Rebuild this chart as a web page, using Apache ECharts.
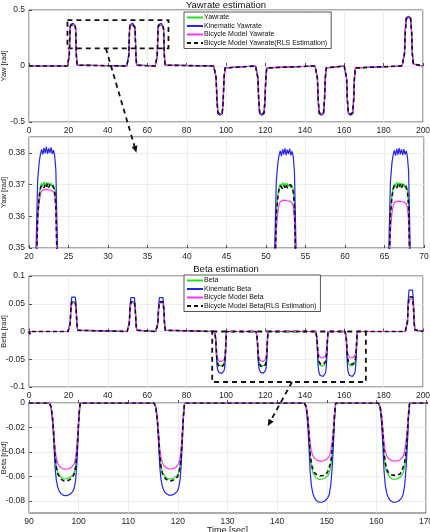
<!DOCTYPE html>
<html><head><meta charset="utf-8">
<script src="https://cdn.jsdelivr.net/npm/echarts@6/dist/echarts.min.js"></script>
<style>html,body{margin:0;padding:0;background:#fff}#c{width:430px;height:532px}</style>
</head><body><div id="c"></div>
<script>
// ---------- Yaw rate data (time [s], values [rad]) ----------
const yawTime = [0,
 19.45,20.05,20.45,20.75,20.9,21.1,21.3,21.45,21.6,21.75,21.9,22.05,22.2,22.35,22.5,22.65,22.8,22.95,23.1,23.25,23.4,23.6,23.75,24.05,24.45,25.05,
 49.65,50.25,50.65,50.95,51.1,51.3,51.5,51.65,51.8,51.95,52.1,52.25,52.4,52.55,52.7,52.85,53.0,53.15,53.3,53.45,53.6,53.8,53.95,54.25,54.65,55.25,
 64.1,64.7,65.1,65.4,65.55,65.75,65.95,66.1,66.25,66.4,66.55,66.7,66.85,67.0,67.15,67.3,67.45,67.6,67.75,67.9,68.05,68.25,68.4,68.7,69.1,69.7,
 93.8,94.5,95.0,95.4,95.9,97.0,98.1,98.6,99.0,99.5,100.2,
 115.0,115.7,116.2,116.6,117.1,118.2,119.3,119.8,120.2,120.7,121.4,
 145.2,145.9,146.4,146.8,147.3,148.4,149.5,150.0,150.4,150.9,151.6,
 160.0,160.7,161.2,161.6,162.1,163.2,164.3,164.8,165.2,165.7,166.4,
 189.4,190.1,190.6,191.0,191.5,192.6,193.7,194.2,194.6,195.1,195.8,
 200];

const yawGreen = [0,
 0,0.0074,0.0925,0.278,0.3407,0.3611,0.3670,0.3693,0.3705,0.3694,0.3709,0.3697,0.3707,0.3693,0.3706,0.3696,0.3704,0.3692,0.3699,0.3686,0.3640,0.3407,0.278,0.0925,0.0074,0,
 0,0.0074,0.0924,0.2776,0.3404,0.3608,0.3667,0.3690,0.3702,0.3692,0.3707,0.3695,0.3705,0.3691,0.3704,0.3694,0.3702,0.3690,0.3697,0.3684,0.3638,0.3404,0.2776,0.0924,0.0074,0,
 0,0.0074,0.0925,0.2777,0.3405,0.3609,0.3668,0.3691,0.3703,0.3693,0.3708,0.3696,0.3706,0.3692,0.3705,0.3695,0.3703,0.3691,0.3698,0.3685,0.3639,0.3405,0.2777,0.0925,0.0074,0,
 0,-0.0172,-0.1078,-0.3017,-0.4181,-0.431,-0.4181,-0.3017,-0.1078,-0.0172,0,
 0,-0.0172,-0.1078,-0.3017,-0.4181,-0.431,-0.4181,-0.3017,-0.1078,-0.0172,0,
 0,-0.0172,-0.1078,-0.3017,-0.4181,-0.431,-0.4181,-0.3017,-0.1078,-0.0172,0,
 0,-0.0172,-0.1078,-0.3017,-0.4181,-0.431,-0.4181,-0.3017,-0.1078,-0.0172,0,
 0,0.0174,0.109,0.3052,0.4229,0.436,0.4229,0.3052,0.109,0.0174,0,
 0];

const yawBlue = [0,
 0,0.0076,0.095,0.286,0.3505,0.3715,0.3772,0.3796,0.3811,0.3795,0.3816,0.3799,0.3819,0.3797,0.3814,0.3800,0.3817,0.3796,0.3809,0.3791,0.3745,0.3505,0.286,0.095,0.0076,0,
 0,0.0076,0.0948,0.2855,0.3500,0.3708,0.3768,0.3792,0.3806,0.3790,0.3811,0.3795,0.3814,0.3793,0.3810,0.3796,0.3813,0.3792,0.3805,0.3788,0.3741,0.3500,0.2855,0.0948,0.0076,0,
 0,0.0076,0.0949,0.2856,0.3502,0.3710,0.3770,0.3794,0.3808,0.3791,0.3813,0.3794,0.3815,0.3795,0.3811,0.3793,0.3812,0.3795,0.3806,0.3789,0.3742,0.3502,0.2856,0.0949,0.0076,0,
 0,-0.0176,-0.11,-0.308,-0.4268,-0.44,-0.4268,-0.308,-0.11,-0.0176,0,
 0,-0.0176,-0.11,-0.308,-0.4268,-0.44,-0.4268,-0.308,-0.11,-0.0176,0,
 0,-0.0176,-0.11,-0.308,-0.4268,-0.44,-0.4268,-0.308,-0.11,-0.0176,0,
 0,-0.0176,-0.11,-0.308,-0.4268,-0.44,-0.4268,-0.308,-0.11,-0.0176,0,
 0,0.0178,0.1113,0.3115,0.4317,0.445,0.4317,0.3115,0.1113,0.0178,0,
 0];

const yawMagenta = [0,
 0,0.0074,0.092,0.276,0.3388,0.3590,0.3647,0.3670,0.3680,0.3677,0.3684,0.3679,0.3685,0.3680,0.3683,0.3678,0.3682,0.3677,0.3677,0.3667,0.3625,0.3388,0.276,0.092,0.0074,0,
 0,0.0073,0.0912,0.2736,0.3356,0.3557,0.3614,0.3636,0.3646,0.3643,0.3650,0.3645,0.3651,0.3646,0.3649,0.3644,0.3648,0.3643,0.3642,0.3632,0.3590,0.3356,0.2736,0.0912,0.0073,0,
 0,0.0073,0.0911,0.2734,0.3353,0.3554,0.3611,0.3633,0.3643,0.3640,0.3647,0.3642,0.3648,0.3643,0.3646,0.3641,0.3645,0.3640,0.3639,0.3629,0.3587,0.3353,0.2734,0.0911,0.0073,0,
 0,-0.0171,-0.107,-0.2996,-0.4152,-0.428,-0.4152,-0.2996,-0.107,-0.0171,0,
 0,-0.0171,-0.107,-0.2996,-0.4152,-0.428,-0.4152,-0.2996,-0.107,-0.0171,0,
 0,-0.0171,-0.107,-0.2996,-0.4152,-0.428,-0.4152,-0.2996,-0.107,-0.0171,0,
 0,-0.0171,-0.107,-0.2996,-0.4152,-0.428,-0.4152,-0.2996,-0.107,-0.0171,0,
 0,0.0173,0.1083,0.3031,0.42,0.433,0.42,0.3031,0.1083,0.0173,0,
 0];

const yawBlack = [0,
 0,0.0074,0.0924,0.2775,0.3402,0.3605,0.3664,0.3688,0.3698,0.3702,0.3690,0.3700,0.3692,0.3703,0.3691,0.3699,0.3694,0.3701,0.3690,0.3680,0.3635,0.3402,0.2775,0.0924,0.0074,0,
 0,0.0074,0.0923,0.2773,0.3400,0.3602,0.3661,0.3685,0.3696,0.3700,0.3688,0.3698,0.3690,0.3701,0.3689,0.3697,0.3692,0.3699,0.3688,0.3678,0.3633,0.3400,0.2773,0.0923,0.0073,0,
 0,0.0074,0.0923,0.2774,0.3401,0.3603,0.3662,0.3686,0.3697,0.3701,0.3689,0.3699,0.3691,0.3702,0.3690,0.3698,0.3693,0.3700,0.3689,0.3679,0.3634,0.3401,0.2774,0.0923,0.0073,0,
 0,-0.0172,-0.1075,-0.301,-0.4171,-0.430,-0.4171,-0.301,-0.1075,-0.0172,0,
 0,-0.0172,-0.1075,-0.301,-0.4171,-0.430,-0.4171,-0.301,-0.1075,-0.0172,0,
 0,-0.0172,-0.1075,-0.301,-0.4171,-0.430,-0.4171,-0.301,-0.1075,-0.0172,0,
 0,-0.0172,-0.1075,-0.301,-0.4171,-0.430,-0.4171,-0.301,-0.1075,-0.0172,0,
 0,0.0174,0.1088,0.3045,0.422,0.435,0.422,0.3045,0.1088,0.0174,0,
 0];

// ---------- Side-slip (beta) data ----------
const betaTime = [0,0.4,0.9,
 19.8,20.5,20.9,21.25,21.7,22.6,23.5,23.95,24.3,24.7,25.4,
 49.8,50.5,50.9,51.25,51.7,52.6,53.5,53.95,54.3,54.7,55.4,
 64.3,65.0,65.4,65.75,66.2,67.1,68.0,68.45,68.8,69.2,69.9,
 94.1,94.45,94.75,95.0,95.25,95.5,95.8,96.1,96.4,96.7,97.0,97.3,97.6,97.9,98.2,98.5,98.8,99.1,99.4,99.65,99.85,100.05,100.3,
 115.2,115.55,115.85,116.1,116.35,116.6,116.9,117.2,117.5,117.8,118.1,118.4,118.7,119.0,119.3,119.6,119.9,120.15,120.45,120.7,120.9,121.1,121.35,
 145.5,145.85,146.15,146.4,146.65,146.9,147.2,147.5,147.8,148.1,148.4,148.7,149.0,149.3,149.6,149.9,150.2,150.5,150.8,151.1,151.35,151.55,151.8,
 160.4,160.75,161.05,161.3,161.55,161.8,162.1,162.4,162.7,163.0,163.3,163.6,163.9,164.2,164.5,164.8,165.1,165.4,165.7,166.0,166.25,166.45,166.7,
 191.0,191.7,192.1,192.45,192.9,193.8,194.7,195.15,195.5,195.9,196.6,
 200];

const betaGreen = [0,-0.004,0,
 0,0.0022,0.014,0.0392,0.0543,0.056,0.0543,0.0392,0.014,0.0022,0,
 0,0.0022,0.014,0.0392,0.0543,0.056,0.0543,0.0392,0.014,0.0022,0,
 0,0.0022,0.014,0.0392,0.0543,0.056,0.0543,0.0392,0.014,0.0022,0,
 0,-0.0031,-0.0124,-0.0260,-0.0426,-0.0513,-0.0566,-0.0581,-0.0605,-0.0609,-0.0620,-0.0616,-0.0619,-0.0613,-0.0611,-0.0603,-0.0590,-0.0569,-0.0513,-0.0402,-0.0260,-0.0111,0,
 0,-0.0031,-0.0124,-0.0260,-0.0428,-0.0515,-0.0568,-0.0584,-0.0607,-0.0611,-0.0621,-0.0618,-0.0620,-0.0615,-0.0612,-0.0605,-0.0592,-0.0570,-0.0515,-0.0403,-0.0260,-0.0112,0,
 0,-0.0031,-0.0125,-0.0262,-0.0431,-0.0518,-0.0570,-0.0585,-0.0610,-0.0615,-0.0625,-0.0622,-0.0624,-0.0619,-0.0616,-0.0608,-0.0596,-0.0574,-0.0518,-0.0406,-0.0262,-0.0112,0,
 0,-0.0031,-0.0125,-0.0262,-0.0430,-0.0517,-0.0568,-0.0586,-0.0608,-0.0616,-0.0624,-0.0621,-0.0623,-0.0620,-0.0615,-0.0607,-0.0595,-0.0573,-0.0517,-0.0405,-0.0262,-0.0112,0,
 0,0.0026,0.0163,0.0455,0.0631,0.065,0.0631,0.0455,0.0163,0.0026,0,
 0];

const betaBlue = [0,-0.004,0,
 0,0.0026,0.016,0.0448,0.0621,0.064,0.0621,0.0448,0.016,0.0026,0,
 0,0.0025,0.0158,0.0441,0.0611,0.063,0.0611,0.0441,0.0158,0.0025,0,
 0,0.0025,0.0158,0.0441,0.0611,0.063,0.0611,0.0441,0.0158,0.0025,0,
 0,-0.0038,-0.0152,-0.0319,-0.0524,-0.0630,-0.0691,-0.0721,-0.0740,-0.0751,-0.0757,-0.0759,-0.0758,-0.0755,-0.0749,-0.0740,-0.0725,-0.0698,-0.0630,-0.0493,-0.0319,-0.0137,0,
 0,-0.0038,-0.0151,-0.0317,-0.0521,-0.0627,-0.0687,-0.0717,-0.0736,-0.0747,-0.0753,-0.0755,-0.0754,-0.0751,-0.0745,-0.0736,-0.0721,-0.0695,-0.0627,-0.0491,-0.0317,-0.0136,0,
 0,-0.0041,-0.0163,-0.0341,-0.0561,-0.0675,-0.0740,-0.0772,-0.0793,-0.0805,-0.0811,-0.0813,-0.0812,-0.0809,-0.0802,-0.0793,-0.0776,-0.0748,-0.0675,-0.0528,-0.0341,-0.0146,0,
 0,-0.0041,-0.0163,-0.0341,-0.0561,-0.0675,-0.0740,-0.0772,-0.0793,-0.0805,-0.0811,-0.0813,-0.0812,-0.0809,-0.0802,-0.0793,-0.0776,-0.0748,-0.0675,-0.0528,-0.0341,-0.0146,0,
 0,0.0031,0.0193,0.0539,0.0747,0.077,0.0747,0.0539,0.0193,0.0031,0,
 0];

const betaMagenta = [0,-0.004,0,
 0,0.0021,0.0133,0.0371,0.0514,0.053,0.0514,0.0371,0.0133,0.0021,0,
 0,0.0021,0.0133,0.0371,0.0514,0.053,0.0514,0.0371,0.0133,0.0021,0,
 0,0.0021,0.0133,0.0371,0.0514,0.053,0.0514,0.0371,0.0133,0.0021,0,
 0,-0.0027,-0.0108,-0.0228,-0.0374,-0.0450,-0.0493,-0.0515,-0.0528,-0.0537,-0.0541,-0.0542,-0.0541,-0.0539,-0.0535,-0.0528,-0.0518,-0.0499,-0.0450,-0.0352,-0.0228,-0.0098,0,
 0,-0.0027,-0.0108,-0.0227,-0.0373,-0.0448,-0.0491,-0.0513,-0.0527,-0.0535,-0.0539,-0.0540,-0.0539,-0.0537,-0.0533,-0.0527,-0.0516,-0.0497,-0.0448,-0.0351,-0.0227,-0.0097,0,
 0,-0.0024,-0.0095,-0.0200,-0.0328,-0.0394,-0.0432,-0.0451,-0.0463,-0.0470,-0.0474,-0.0475,-0.0475,-0.0473,-0.0469,-0.0463,-0.0454,-0.0437,-0.0394,-0.0309,-0.0200,-0.0086,0,
 0,-0.0024,-0.0095,-0.0200,-0.0328,-0.0395,-0.0433,-0.0452,-0.0464,-0.0471,-0.0475,-0.0476,-0.0476,-0.0474,-0.0470,-0.0464,-0.0455,-0.0438,-0.0395,-0.0309,-0.0200,-0.0086,0,
 0,0.0024,0.015,0.042,0.0582,0.060,0.0582,0.042,0.015,0.0024,0,
 0];

const betaBlack = [0,-0.005,0,
 0,0.0022,0.0138,0.0385,0.0534,0.055,0.0534,0.0385,0.0138,0.0022,0,
 0,0.0022,0.0138,0.0385,0.0534,0.055,0.0534,0.0385,0.0138,0.0022,0,
 0,0.0022,0.0138,0.0385,0.0534,0.055,0.0534,0.0385,0.0138,0.0022,0,
 0,-0.0032,-0.0127,-0.0266,-0.0437,-0.0525,-0.0582,-0.0598,-0.0622,-0.0624,-0.0637,-0.0630,-0.0638,-0.0627,-0.0628,-0.0614,-0.0607,-0.0582,-0.0525,-0.0411,-0.0266,-0.0114,0,
 0,-0.0032,-0.0126,-0.0265,-0.0436,-0.0524,-0.0580,-0.0597,-0.0620,-0.0623,-0.0636,-0.0629,-0.0637,-0.0626,-0.0627,-0.0613,-0.0606,-0.0581,-0.0524,-0.0410,-0.0265,-0.0114,0,
 0,-0.0030,-0.0118,-0.0248,-0.0407,-0.0492,-0.0545,-0.0570,-0.0572,-0.0590,-0.0583,-0.0595,-0.0585,-0.0593,-0.0578,-0.0582,-0.0561,-0.0545,-0.0490,-0.0384,-0.0248,-0.0106,0,
 0,-0.0029,-0.0118,-0.0247,-0.0406,-0.0490,-0.0543,-0.0566,-0.0575,-0.0587,-0.0580,-0.0592,-0.0583,-0.0590,-0.0576,-0.0580,-0.0559,-0.0543,-0.0488,-0.0382,-0.0247,-0.0106,0,
 0,0.0026,0.016,0.0448,0.0621,0.064,0.0621,0.0448,0.016,0.0026,0,
 0];

// ---------- Names / axis settings ----------
const yawNames = ['Yawrate','Kinematic Yawrate','Bicycle Model Yawrate','Bicycle Model Yawrate(RLS Estimation)'];
const betaNames = ['Beta','Kinematic Beta','Bicycle Model Beta','Bicycle Model Beta(RLS Estimation)'];
const titles = ['Yawrate estimation','Beta estimation'];
const yLabels = ['Yaw [rad]','Yaw [rad]','Beta [rad]','Beta [rad]'];
const xLabel = 'Time [sec]';
const betaZoomTicks = [-0.08,-0.06,-0.04,-0.02,0];

[[yawTime,yawGreen],[yawTime,yawBlue],[yawTime,yawMagenta],[yawTime,yawBlack],
 [betaTime,betaGreen],[betaTime,betaBlue],[betaTime,betaMagenta],[betaTime,betaBlack]].forEach(function(p,i){
  if (p[0].length !== p[1].length) throw new Error('length mismatch ' + i + ': ' + p[0].length + ' vs ' + p[1].length);
});

const FONT = '"Liberation Sans", Arial, Helvetica, sans-serif';
const COLORS = ['#22dd22','#2525e6','#ff33ff','#111111'];

const grids = [
  {left:29, top:10, right:7, height:112},
  {left:29, top:137, right:6, height:111},
  {left:29, top:276, right:7, height:111},
  {left:29, top:403, right:4, height:110}
].map(g => Object.assign({show:true, containLabel:false, outerBoundsMode:'none', borderColor:'#2b2b2b', borderWidth:0.8, backgroundColor:'#fff'}, g));

function xAx(gi, min, max, interval, name) {
  return {type:'value', gridIndex:gi, min, max, interval,
    name: name || '', nameLocation:'middle', nameGap:13, nameMoveOverlap:false,
    nameTextStyle:{fontSize:9, fontFamily:FONT, color:'#222', verticalAlign:'top'},
    axisLine:{show:false},
    axisTick:{show:true, inside:true, length:3, lineStyle:{color:'#2b2b2b', width:0.8}},
    axisLabel:{margin:4, fontSize:8.5, fontFamily:FONT, color:'#262626'},
    splitLine:{show:true, lineStyle:{color:'#e8e8e8', width:0.8}}};
}
function yAx(gi, min, max, interval, name, extra) {
  const base = {type:'value', gridIndex:gi, min, max, interval,
    name, nameLocation:'middle', nameGap:21, nameRotate:90, nameMoveOverlap:false,
    nameTextStyle:{fontSize:7.5, fontFamily:FONT, color:'#222'},
    axisLine:{show:false},
    axisTick:{show:true, inside:true, length:3, lineStyle:{color:'#2b2b2b', width:0.8}},
    axisLabel:{margin:4, fontSize:8.5, fontFamily:FONT, color:'#262626'},
    splitLine:{show:true, lineStyle:{color:'#e8e8e8', width:0.8}}};
  if (extra) {
    Object.keys(extra).forEach(function(k){
      if (typeof extra[k] === 'object' && !Array.isArray(extra[k]) && base[k]) base[k] = Object.assign({}, base[k], extra[k]);
      else base[k] = extra[k];
    });
  }
  return base;
}

function mk(name, time, vals, idx, color, dashed, extra) {
  return Object.assign({
    type:'line', name, xAxisIndex:idx, yAxisIndex:idx,
    data: time.map((t,i) => [t, vals[i]]),
    symbol:'none', showSymbol:false, animation:false, silent:true,
    lineStyle:{color, width: dashed ? 1.6 : 1.2, type: dashed ? [4,3] : 'solid'},
    itemStyle:{color}
  }, extra || {});
}

const yawVals = [yawGreen, yawBlue, yawMagenta, yawBlack];
const betaVals = [betaGreen, betaBlue, betaMagenta, betaBlack];
const series = [];
[0,1].forEach(function(idx){
  yawVals.forEach(function(v,k){
    const extra = {};
    if (idx === 0 && k === 3) {
      extra.markArea = {silent:true, itemStyle:{color:'rgba(0,0,0,0)', borderColor:'#111', borderWidth:1.8, borderType:[5,4]},
        data:[[{coord:[19.5,0.41]},{coord:[70.8,0.158]}]]};
    }
    series.push(mk(yawNames[k], yawTime, v, idx, COLORS[k], k===3, extra));
  });
});
[2,3].forEach(function(idx){
  betaVals.forEach(function(v,k){
    const extra = {};
    if (idx === 2 && k === 3) {
      extra.markArea = {silent:true, itemStyle:{color:'rgba(0,0,0,0)', borderColor:'#111', borderWidth:1.8, borderType:[5,4]},
        data:[[{coord:[93,0]},{coord:[171,-0.091]}]]};
    }
    series.push(mk(betaNames[k], betaTime, v, idx, COLORS[k], k===3, extra));
  });
});

function legendCfg(names, top) {
  return {data:names, left:184, top, orient:'vertical', selectedMode:false,
    itemWidth:16, itemHeight:6, itemGap:0.5, padding:[1.5,4,1.5,2],
    itemStyle:{color:'rgba(0,0,0,0)', borderWidth:0, opacity:0},
    borderColor:'#2b2b2b', borderWidth:0.8, backgroundColor:'#fff', borderRadius:0,
    textStyle:{fontSize:7, lineHeight:8, fontFamily:FONT, color:'#111', padding:[0,0,0,-4]}};
}

const chart = echarts.init(document.getElementById('c'), null, {renderer:'canvas'});
chart.setOption({
  animation:false,
  backgroundColor:'#fff',
  title:[
    {text:titles[0], left:226, top:0, textAlign:'center', padding:0, textStyle:{fontSize:9.5, fontWeight:'normal', fontFamily:FONT, color:'#111'}},
    {text:titles[1], left:226, top:264, textAlign:'center', padding:0, textStyle:{fontSize:9.5, fontWeight:'normal', fontFamily:FONT, color:'#111'}}
  ],
  legend:[legendCfg(yawNames, 12), legendCfg(betaNames, 275)],
  grid: grids,
  xAxis:[xAx(0,0,200,20), xAx(1,20,70,5), xAx(2,0,200,20), xAx(3,90,170,10,xLabel)],
  yAxis:[yAx(0,-0.5,0.5,0.5,yLabels[0]),
         yAx(1,0.35,0.385,0.01,yLabels[1],{axisLabel:{showMaxLabel:false}}),
         yAx(2,-0.1,0.1,0.05,yLabels[2]),
         yAx(3,-0.09,0,0.02,yLabels[3],{startValue:-0.08, axisLabel:{customValues:betaZoomTicks}, axisTick:{customValues:betaZoomTicks}})],
  series
});

function arrow(p0, p1) {
  const dx = p1[0]-p0[0], dy = p1[1]-p0[1];
  const L = Math.sqrt(dx*dx+dy*dy), ux = dx/L, uy = dy/L;
  const hl = 7, hw = 3;
  const bx = p1[0]-ux*hl, by = p1[1]-uy*hl;
  return [
    {type:'line', silent:true, z:100, shape:{x1:p0[0], y1:p0[1], x2:bx, y2:by},
     style:{stroke:'#111', lineWidth:1.8, lineDash:[5,4]}},
    {type:'polygon', silent:true, z:100, shape:{points:[[p1[0],p1[1]],[bx-uy*hw, by+ux*hw],[bx+uy*hw, by-ux*hw]]},
     style:{fill:'#111'}}
  ];
}
const a1 = arrow(chart.convertToPixel({xAxisIndex:0, yAxisIndex:0}, [39, 0.158]),
                 chart.convertToPixel({xAxisIndex:1, yAxisIndex:1}, [33.6, 0.380]));
const a2 = arrow(chart.convertToPixel({xAxisIndex:2, yAxisIndex:2}, [133.5, -0.091]),
                 chart.convertToPixel({xAxisIndex:3, yAxisIndex:3}, [138.1, -0.019]));
chart.setOption({graphic: a1.concat(a2)});
</script>
</body></html>
